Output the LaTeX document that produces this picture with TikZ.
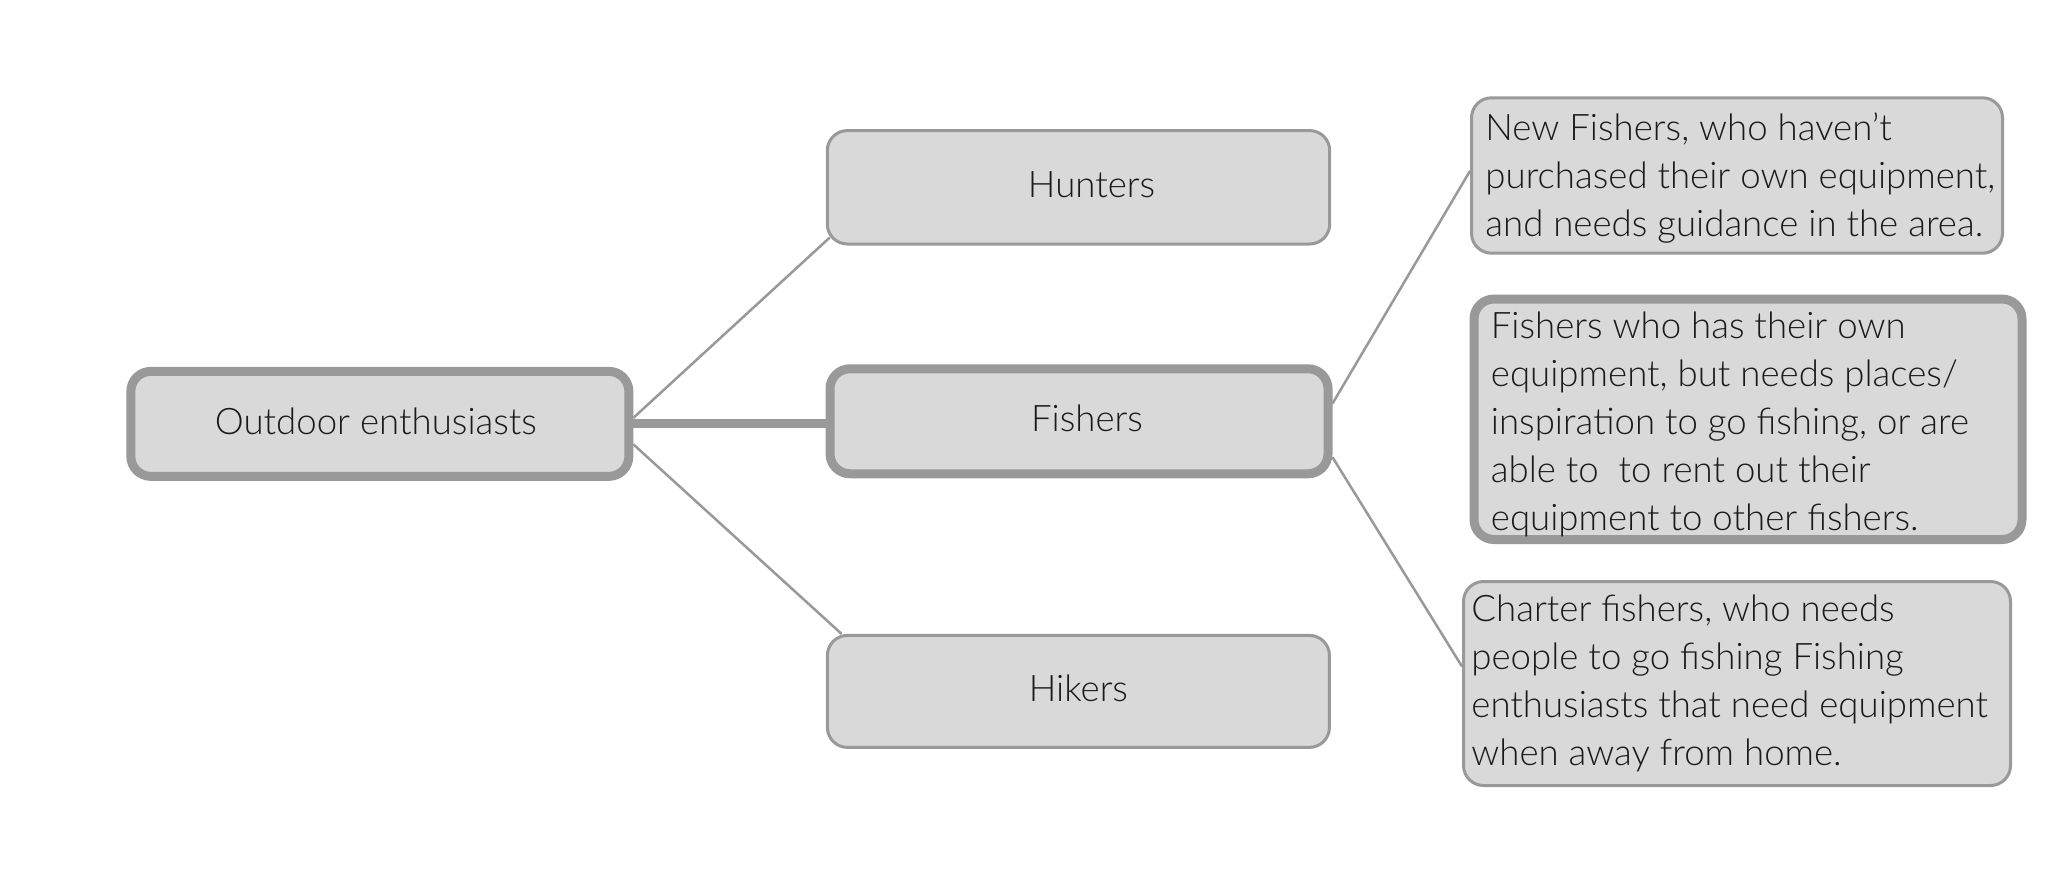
\documentclass[tikz,border=0pt]{standalone}
\usepackage{fontspec}
\setmainfont{Lato}[UprightFont=* Light]
\usetikzlibrary{calc}
\definecolor{boxfill}{HTML}{D9D9D9}
\definecolor{boxline}{HTML}{999999}
\definecolor{txt}{HTML}{1A1A1A}
\begin{document}
\begin{tikzpicture}[x=0.5pt,y=-0.5pt,
  box/.style={draw=boxline, fill=boxfill, rounded corners=10pt, line width=1.5pt,
              inner sep=0pt, font=\fontsize{18.3}{24}\selectfont, text=txt},
  boldbox/.style={box, line width=4.5pt},
  lbl/.style={inner sep=0pt, align=left, font=\fontsize{18.3}{24}\selectfont, text=txt, anchor=west},
  link/.style={draw=boxline, line width=1.25pt},
  boldlink/.style={draw=boxline, line width=4.5pt}]
\fill[white] (0,0) rectangle (2061,885);
\useasboundingbox (0,0) rectangle (2061,885);

% first level
\node[boldbox, minimum width=249pt, minimum height=52.5pt] (o) at (379.85,423.85) {};
% second level
\node[box, minimum width=251.2pt, minimum height=56.7pt] (hunters) at (1078.5,187.3) {};
\node[boldbox, minimum width=249pt, minimum height=52.5pt] (fishers) at (1079,421.25) {};
\node[box, minimum width=251pt, minimum height=56pt] (hikers) at (1078.4,691.4) {};
% third level
\node[box, minimum width=265.5pt, minimum height=77.7pt] (new) at (1737,175.5) {};
\node[boldbox, minimum width=274pt, minimum height=120.25pt] (who) at (1748,419.25) {};
\node[box, minimum width=273.5pt, minimum height=102pt] (charter) at (1737,683.5) {};

% texts
\node[lbl, anchor=center] (ot) at ($(o.center)+(-4,-3)$) {Outdoor enthusiasts};
\node[lbl, anchor=center] (ht) at ($(hunters.center)+(13,-3)$) {Hunters};
\node[lbl, anchor=center] (ft) at ($(fishers.center)+(8,-3)$) {Fishers};
\node[lbl, anchor=center] (kt) at ($(hikers.center)+(0,-3)$) {Hikers};
\node[lbl] (newt) at (1485,178) {New Fishers, who haven’t\\purchased their own equipment,\\and needs guidance in the area.};
\node[lbl] (whot) at (1490.5,424) {Fishers who has their own\\equipment, but needs places/\\inspiration to go fishing, or are\\able to\ \ to rent out their\\equipment to other fishers.};
\node[lbl] (chartert) at (1471,683) {Charter fishers, who needs\\people to go fishing Fishing\\enthusiasts that need equipment\\when away from home.};

% connectors
\draw[link] ($(o.east)+(0,-6)$) -- ($(hunters.south west)+(4,-8)$);
\draw[boldlink] (o.east) -- (o.east -| fishers.west);
\draw[link] ($(o.east)+(0,20.5)$) -- ($(hikers.north west)+(15.7,0)$);
\draw[link] ($(fishers.east)+(0,-17.75)$) -- ($(new.west)+(0,-4.6)$);
\draw[boldlink] ($(fishers.east)+(0,4.5)$) -- ($(fishers.east)+(0,4.5)$ -| who.west);
\draw[link] ($(fishers.east)+(0,36)$) -- ($(charter.west)+(0,-17)$);
\end{tikzpicture}
\end{document}
